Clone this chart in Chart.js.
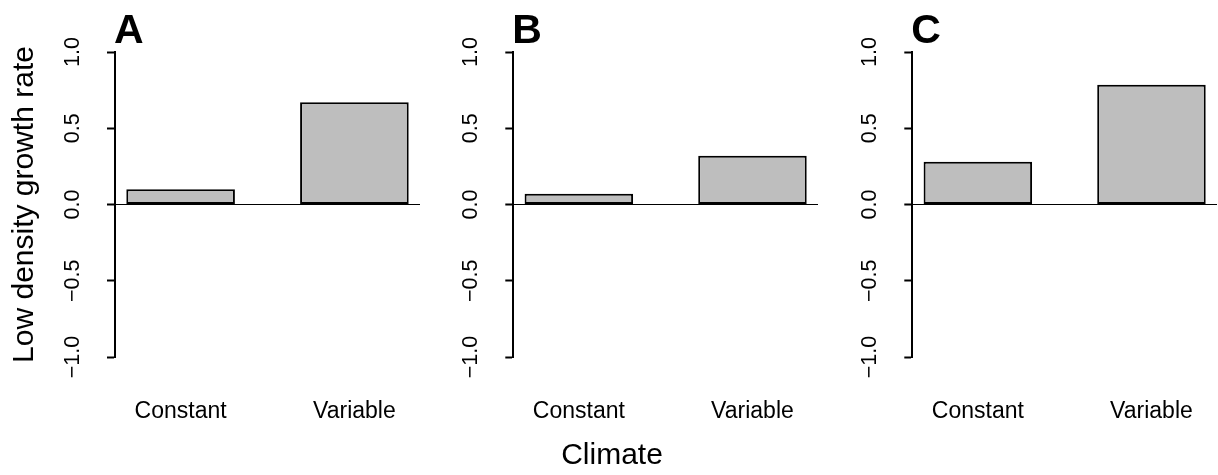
<!DOCTYPE html>
<html>
<head>
<meta charset="utf-8">
<script src="https://cdn.jsdelivr.net/npm/chart.js@4.4.0/dist/chart.umd.min.js"></script>
<style>
  html, body { margin: 0; padding: 0; background: #fff; }
  #wrap { position: relative; width: 1218px; height: 475px; overflow: hidden; }
  #wrap canvas { position: absolute; top: 0; }
</style>
</head>
<body>
<div id="wrap">
  <canvas id="panelA" width="420" height="475" style="left:0px"></canvas>
  <canvas id="panelB" width="412" height="475" style="left:406px"></canvas>
  <canvas id="panelC" width="405" height="475" style="left:812px"></canvas>
</div>
<script>
// Data
const categories = ['Constant', 'Variable'];
const panelLetters = ['A', 'B', 'C'];
const growthA = [0.10, 0.67];
const growthB = [0.07, 0.32];
const growthC = [0.28, 0.785];
const yTicks = [-1.0, -0.5, 0.0, 0.5, 1.0];
const yTickLabels = ['\u22121.0', '\u22120.5', '0.0', '0.5', '1.0'];
const yTitle = 'Low density growth rate';
const xTitle = 'Climate';

const FONT = "'Liberation Sans', Arial, Helvetica, sans-serif";

// Draws the bold panel letter above the top-left corner of the plot
const panelLetter = {
    id: 'panelLetter',
    afterDraw(chart, args, opts) {
        const { ctx, chartArea } = chart;
        ctx.save();
        ctx.font = 'bold 41px ' + FONT;
        ctx.fillStyle = '#000';
        ctx.textAlign = 'left';
        ctx.textBaseline = 'alphabetic';
        ctx.fillText(opts.text, chartArea.left - 1, chartArea.top - 9);
        ctx.restore();
    }
};

// One barplot panel
function createPanel(canvasId, letter, values, axisWidth, showYTitle, showXTitle) {
    const ctx = document.getElementById(canvasId).getContext('2d');
    return new Chart(ctx, {
        type: 'bar',
        data: {
            datasets: [{
                data: values.map((v, i) => ({ x: i, y: v })),
                backgroundColor: '#bebebe',
                borderColor: '#000',
                borderWidth: 2,
                borderSkipped: false,
                categoryPercentage: 1 / 1.6,
                barPercentage: 1
            }]
        },
        options: {
            responsive: false,
            animation: false,
            devicePixelRatio: 1,
            layout: {
                padding: { top: 52, right: 0, bottom: showXTitle ? 0 : 48, left: 0 }
            },
            plugins: {
                legend: { display: false },
                tooltip: { enabled: false },
                title: {
                    display: showXTitle,
                    text: xTitle,
                    position: 'bottom',
                    color: '#000',
                    font: { size: 30, weight: 'normal', family: FONT },
                    padding: { top: 11, bottom: 1 }
                },
                panelLetter: { text: letter }
            },
            scales: {
                x: {
                    type: 'linear',
                    min: -0.3775,
                    max: 1.3775,
                    offset: false,
                    // invisible tick marks push the labels down without widening the side padding
                    grid: {
                        display: true,
                        offset: false,
                        drawOnChartArea: false,
                        drawTicks: true,
                        tickLength: 41,
                        tickColor: 'rgba(0,0,0,0)'
                    },
                    border: { display: false },
                    afterBuildTicks: s => { s.ticks = categories.map((c, i) => ({ value: i })); },
                    afterFit: s => { s.height = 70; },
                    ticks: {
                        callback: v => categories[v],
                        autoSkip: false,
                        maxRotation: 0,
                        color: '#000',
                        padding: 0,
                        font: { size: 23, family: FONT }
                    }
                },
                y: {
                    min: -1,
                    max: 1,
                    afterBuildTicks: s => { s.ticks = yTicks.map(v => ({ value: v })); },
                    afterFit: s => { s.width = axisWidth; },
                    border: { display: true, color: '#000', width: 2 },
                    grid: {
                        color: c => (c.tick && c.tick.value === 0) ? '#000' : 'rgba(0,0,0,0)',
                        lineWidth: 1,
                        drawTicks: true,
                        tickLength: 8,
                        tickColor: '#000',
                        tickWidth: 2
                    },
                    ticks: {
                        callback: v => yTickLabels[yTicks.indexOf(v)],
                        minRotation: 90,
                        maxRotation: 90,
                        crossAlign: 'center',
                        padding: 13,
                        color: '#000',
                        font: { size: 21.5, family: FONT }
                    },
                    title: {
                        display: showYTitle,
                        text: yTitle,
                        color: '#000',
                        font: { size: 30, family: FONT },
                        padding: { top: 7, bottom: 0 }
                    }
                }
            }
        },
        plugins: [panelLetter]
    });
}

createPanel('panelA', panelLetters[0], growthA, 115, true, false);
createPanel('panelB', panelLetters[1], growthB, 107.3, false, true);
createPanel('panelC', panelLetters[2], growthC, 100.3, false, false);
</script>
</body>
</html>
